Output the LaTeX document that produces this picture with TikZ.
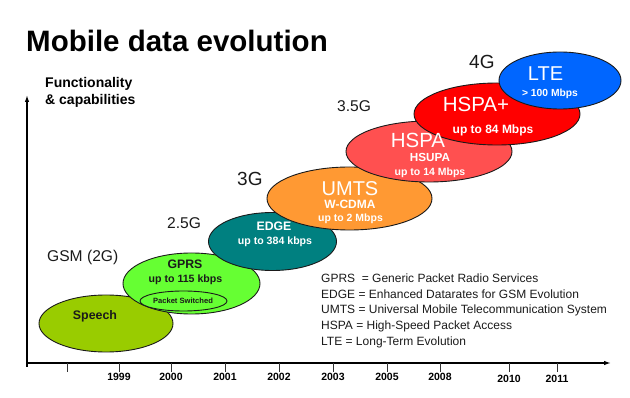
\documentclass[tikz,border=0pt]{standalone}
\usepackage{fontspec}
\setmainfont{Liberation Sans}
\usetikzlibrary{shapes.geometric,arrows.meta}
\definecolor{speechc}{HTML}{99CC00}
\definecolor{gprsc}{HTML}{66FF33}
\definecolor{edgec}{HTML}{008080}
\definecolor{umtsc}{HTML}{FF9933}
\definecolor{hspac}{HTML}{FF5050}
\definecolor{hspapc}{HTML}{FF0000}
\definecolor{ltec}{HTML}{0066FF}
\definecolor{inkc}{HTML}{1A1A1A}
\newcommand{\myfs}[1]{\fontsize{#1}{#1}\selectfont}
\begin{document}
\begin{tikzpicture}[x=1pt,y=-1pt,
  blob/.style={ellipse, draw=inkc, line width=0.9pt, inner sep=0pt},
  txt/.style={inner sep=0pt, anchor=base},
  ltxt/.style={inner sep=0pt, anchor=base west},
  axisline/.style={line width=1.3pt, draw=black, -{Latex[length=7pt,width=4.5pt]}},
  tickline/.style={line width=1pt, draw=black!80},
  yearlbl/.style={inner sep=0pt, anchor=base, font=\bfseries\myfs{10.5}},
  gen/.style={inner sep=0pt, anchor=base west, text=inkc},
  legend/.style={inner sep=0pt, anchor=base west, text=inkc, font=\myfs{12}}
]
\useasboundingbox (0,0) rectangle (630,398);

% title and axis label
\node[ltxt, font=\bfseries\myfs{29.5}] (title) at (26,52) {Mobile data evolution};
\node[ltxt, font=\bfseries\myfs{14}] (func1) at (45,88) {Functionality};
\node[ltxt, font=\bfseries\myfs{14}] (func2) at (45,105) {\& capabilities};

% axes
\coordinate (ybot) at (27,367);
\coordinate (ytop) at (27,95);
\coordinate (xl) at (27,363);
\coordinate (xr) at (611,363);
\draw[axisline] (ybot) -- (ytop);
\draw[axisline] (xl) -- (xr);

\foreach \x/\n in {67/t0,119/t1,171/t2,225/t3,279/t4,333/t5,387/t6,440/t7,509/t8,557/t9}{
  \coordinate (\n a) at (\x,363);
  \coordinate (\n b) at (\x,372);
  \draw[tickline] (\n a) -- (\n b);
}
\node[yearlbl] (y1999) at (119,381) {1999};
\node[yearlbl] (y2000) at (171,381) {2000};
\node[yearlbl] (y2001) at (225,381) {2001};
\node[yearlbl] (y2002) at (279,381) {2002};
\node[yearlbl] (y2003) at (333,381) {2003};
\node[yearlbl] (y2005) at (387,381) {2005};
\node[yearlbl] (y2008) at (440,381) {2008};
\node[yearlbl] (y2010) at (509,383) {2010};
\node[yearlbl] (y2011) at (557,383) {2011};

% ellipses (bottom to top)
\node[blob, fill=speechc, minimum width=134pt, minimum height=57pt] (speech) at (106,323.5) {};
\node[blob, fill=gprsc, minimum width=137pt, minimum height=61pt] (gprs) at (191.5,283.5) {};
\node[blob, fill=gprsc, minimum width=87pt, minimum height=20pt] (ps) at (183.5,301) {};
\node[blob, fill=edgec, minimum width=128pt, minimum height=58pt] (edge) at (272.5,241.5) {};
\node[blob, fill=umtsc, minimum width=165pt, minimum height=63pt] (umts) at (349.5,198.5) {};
\node[blob, fill=hspac, minimum width=166pt, minimum height=61pt] (hspa) at (429,151.5) {};
\node[blob, fill=hspapc, minimum width=166pt, minimum height=62pt] (hspap) at (497,114) {};
\node[blob, fill=ltec, minimum width=122pt, minimum height=57pt] (lte) at (560,80.5) {};

% texts in ellipses
\node[txt, text=inkc, font=\bfseries\myfs{12.4}] (speechT) at (95,319.5) {Speech};
\node[txt, text=inkc, font=\bfseries\myfs{12.3}] (gprsT) at (185,269) {GPRS};
\node[txt, text=inkc, font=\bfseries\myfs{10.6}] (gprsS) at (185.5,283) {up to 115 kbps};
\node[txt, text=inkc, font=\bfseries\myfs{7.6}] (psT) at (183,304) {Packet Switched};
\node[txt, text=white, font=\bfseries\myfs{12.3}] (edgeT) at (274,231) {EDGE};
\node[txt, text=white, font=\bfseries\myfs{10.6}] (edgeS) at (275,245) {up to 384 kbps};
\node[txt, text=white, font=\myfs{20}] (umtsT) at (350,196) {UMTS};
\node[txt, text=white, font=\bfseries\myfs{12}] (umtsW) at (350,209) {W-CDMA};
\node[txt, text=white, font=\bfseries\myfs{10.5}] (umtsS) at (350.5,222) {up to 2 Mbps};
\node[txt, text=white, font=\myfs{20.5}] (hspaT) at (418,148) {HSPA};
\node[txt, text=white, font=\bfseries\myfs{11.7}] (hspaU) at (430,162) {HSUPA};
\node[txt, text=white, font=\bfseries\myfs{10.5}] (hspaS) at (430,176) {up to 14 Mbps};
\node[txt, text=white, font=\myfs{20.5}] (hspapT) at (476,111.5) {HSPA+};
\node[txt, text=white, font=\bfseries\myfs{12}] (hspapS) at (493,134) {up to 84 Mbps};
\node[txt, text=white, font=\myfs{20}] (lteT) at (545.5,81) {LTE};
\node[txt, text=white, font=\bfseries\myfs{10.3}] (lteS) at (550,96.5) {> 100 Mbps};

% generation labels
\node[gen, font=\myfs{15.6}] (g2) at (47,261.5) {GSM (2G)};
\node[gen, font=\myfs{15.6}] (g25) at (167,228.5) {2.5G};
\node[gen, font=\myfs{19}] (g3) at (237,186) {3G};
\node[gen, font=\myfs{15.6}] (g35) at (337,112) {3.5G};
\node[gen, font=\myfs{19}] (g4) at (469,69) {4G};

% legend
\node[legend] (l1) at (321,283) {GPRS\ \ = Generic Packet Radio Services};
\node[legend] (l2) at (321,298.5) {EDGE = Enhanced Datarates for GSM Evolution};
\node[legend] (l3) at (321,314) {UMTS = Universal Mobile Telecommunication System};
\node[legend] (l4) at (321,330) {HSPA = High-Speed Packet Access};
\node[legend] (l5) at (321,346) {LTE = Long-Term Evolution};
\end{tikzpicture}
\end{document}
